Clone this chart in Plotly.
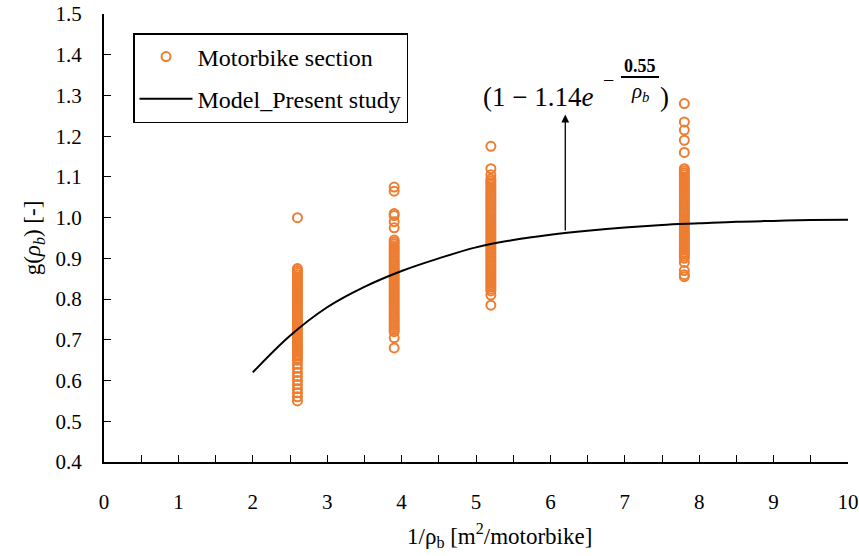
import plotly.graph_objects as go

# ---- data ----
x_col1 = 2.6
y_col1 = [1.00,
          0.875, 0.87, 0.865, 0.86, 0.855, 0.85, 0.845, 0.84, 0.835, 0.83, 0.825, 0.82,
          0.815, 0.81, 0.805, 0.80, 0.795, 0.79, 0.785, 0.78, 0.775, 0.77, 0.765, 0.76,
          0.755, 0.75, 0.745, 0.74, 0.735, 0.73, 0.725, 0.72, 0.715, 0.71, 0.705, 0.70,
          0.695, 0.69, 0.685, 0.68, 0.675, 0.67, 0.665, 0.66, 0.655, 0.65,
          0.64, 0.63, 0.62, 0.61, 0.60, 0.59, 0.58, 0.57, 0.56, 0.55]
x_col2 = 3.9
y_col2 = [1.075, 1.065, 1.01, 1.005, 0.99, 0.975, 0.945,
          0.94, 0.935, 0.93, 0.925, 0.92, 0.915, 0.91, 0.905, 0.90, 0.895, 0.89, 0.885,
          0.88, 0.875, 0.87, 0.865, 0.86, 0.855, 0.85, 0.845, 0.84, 0.835, 0.83, 0.825,
          0.82, 0.815, 0.81, 0.805, 0.80, 0.795, 0.79, 0.785, 0.78, 0.775, 0.77, 0.765,
          0.76, 0.755, 0.75, 0.745, 0.74, 0.735, 0.73, 0.725, 0.72,
          0.705, 0.68]
x_col3 = 5.2
y_col3 = [1.175, 1.12, 1.105, 1.095,
          1.09, 1.085, 1.08, 1.075, 1.07, 1.065, 1.06, 1.055, 1.05, 1.045, 1.04, 1.035,
          1.03, 1.025, 1.02, 1.015, 1.01, 1.005, 1.00, 0.995, 0.99, 0.985, 0.98, 0.975,
          0.97, 0.965, 0.96, 0.955, 0.95, 0.945, 0.94, 0.935, 0.93, 0.925, 0.92, 0.915,
          0.91, 0.905, 0.90, 0.895, 0.89, 0.885, 0.88, 0.875, 0.87, 0.865, 0.86, 0.855,
          0.85, 0.845, 0.84, 0.835, 0.83, 0.825, 0.82,
          0.81, 0.785]
x_col4 = 7.8
y_col4 = [1.28, 1.235, 1.215, 1.19, 1.16,
          1.12, 1.115, 1.11, 1.105, 1.10, 1.095, 1.09, 1.085, 1.08, 1.075, 1.07, 1.065,
          1.06, 1.055, 1.05, 1.045, 1.04, 1.035, 1.03, 1.025, 1.02, 1.015, 1.01, 1.005,
          1.00, 0.995, 0.99, 0.985, 0.98, 0.975, 0.97, 0.965, 0.96, 0.955, 0.95, 0.945,
          0.94, 0.935, 0.93, 0.925, 0.92, 0.915, 0.91, 0.905, 0.90,
          0.89, 0.87, 0.86, 0.855]

model_x = [2.0, 2.5, 3.0, 3.5, 4.0, 4.5, 5.0, 5.5, 6.0, 6.5, 7.0, 7.5, 8.0, 8.5, 9.0, 9.5, 10.0]
model_y = [0.62, 0.71, 0.78, 0.83, 0.869, 0.9, 0.927, 0.945, 0.958, 0.968, 0.976, 0.982,
           0.986, 0.99, 0.992, 0.994, 0.995]

x_ticks = list(range(0, 11))
y_ticks = [0.4, 0.5, 0.6, 0.7, 0.8, 0.9, 1.0, 1.1, 1.2, 1.3, 1.4, 1.5]

ORANGE = "#ED7D31"
FONT = "Liberation Serif"

scatter_x = ([x_col1] * len(y_col1) + [x_col2] * len(y_col2)
             + [x_col3] * len(y_col3) + [x_col4] * len(y_col4))
scatter_y = y_col1 + y_col2 + y_col3 + y_col4

fig = go.Figure()
fig.add_trace(go.Scatter(
    x=scatter_x, y=scatter_y, mode="markers", name="Motorbike section", legendgroup="a",
    marker=dict(symbol="circle-open", size=9, color=ORANGE, line=dict(width=2, color=ORANGE)),
))
fig.add_trace(go.Scatter(
    x=model_x, y=model_y, mode="lines", name="Model_Present study", legendgroup="b",
    line=dict(color="black", width=2, shape="spline"),
))

W, H = 859, 556
L, T, R, B = 104, 14, 11, 94
pw, ph = W - L - R, H - T - B


def px(xp):
    return (xp - L) / pw


def py(yp):
    return (H - B - yp) / ph


annotations = [
    dict(x=6.2, y=1.253, ax=6.2, ay=0.965, xref="x", yref="y", axref="x", ayref="y",
         text="", showarrow=True, arrowhead=2, arrowsize=1.2, arrowwidth=1.3, arrowcolor="black"),
    dict(x=px(481), y=py(97), xref="paper", yref="paper", xanchor="left", yanchor="middle",
         text="(1 − 1.14<i>e</i>", showarrow=False, font=dict(family=FONT, size=27, color="black")),
    dict(x=px(608), y=py(80), xref="paper", yref="paper", xanchor="center", yanchor="middle",
         text="−", showarrow=False, font=dict(family=FONT, size=20, color="black")),
    dict(x=px(640), y=py(66), xref="paper", yref="paper", xanchor="center", yanchor="middle",
         text="<b>0.55</b>", showarrow=False, font=dict(family=FONT, size=18, color="black")),
    dict(x=px(640), y=py(92), xref="paper", yref="paper", xanchor="center", yanchor="middle",
         text="<i>ρ<sub>b</sub></i>", showarrow=False, font=dict(family=FONT, size=21, color="black")),
    dict(x=px(664), y=py(97), xref="paper", yref="paper", xanchor="center", yanchor="middle",
         text=")", showarrow=False, font=dict(family=FONT, size=27, color="black")),
    dict(x=px(499), y=py(535), xref="paper", yref="paper", xanchor="center", yanchor="middle",
         text="1/ρ<sub>b</sub> [m<sup>2</sup>/motorbike]", showarrow=False,
         font=dict(family=FONT, size=23, color="black")),
]

shapes = [
    dict(type="line", xref="paper", yref="paper", x0=px(621), x1=px(659), y0=py(77), y1=py(77),
         line=dict(color="black", width=1.8)),
]

fig.update_layout(
    width=W, height=H,
    margin=dict(l=L, r=R, t=T, b=B),
    paper_bgcolor="white", plot_bgcolor="white",
    font=dict(family=FONT, size=20, color="black"),
    showlegend=True,
    legend=dict(x=px(133), y=py(33), xanchor="left", yanchor="top",
                bordercolor="black", borderwidth=1.5, bgcolor="white",
                font=dict(family=FONT, size=24), itemwidth=53, tracegroupgap=8,
                traceorder="grouped"),
    annotations=annotations,
    shapes=shapes,
    xaxis=dict(range=[0, 10], tickvals=x_ticks, ticktext=[str(v) for v in x_ticks],
               showgrid=False, zeroline=False, showline=True, linecolor="black", linewidth=2,
               ticks="inside", ticklen=7, tickwidth=1.3, tickcolor="black",
               minor=dict(dtick=0.5, tick0=0, ticks="inside", ticklen=7, tickwidth=1.3, tickcolor="black"),
               ticklabelstandoff=20, automargin=False, ticklabeloverflow="allow",
               tickfont=dict(family=FONT, size=21)),
    yaxis=dict(range=[0.4, 1.5], tickvals=y_ticks, ticktext=[f"{v:.1f}" for v in y_ticks],
               showgrid=False, zeroline=False, showline=True, linecolor="black", linewidth=2,
               ticks="inside", ticklen=7, tickwidth=1.3, tickcolor="black",
               ticklabelstandoff=16, automargin=False, ticklabeloverflow="allow",
               tickfont=dict(family=FONT, size=21),
               title=dict(text="g(<i>ρ<sub>b</sub></i>) [-]", font=dict(size=23), standoff=8)),
)

fig.write_html(
    "out.html",
    config={"displayModeBar": False},
    post_script="document.body.style.margin='0';document.body.style.overflow='hidden';",
)
